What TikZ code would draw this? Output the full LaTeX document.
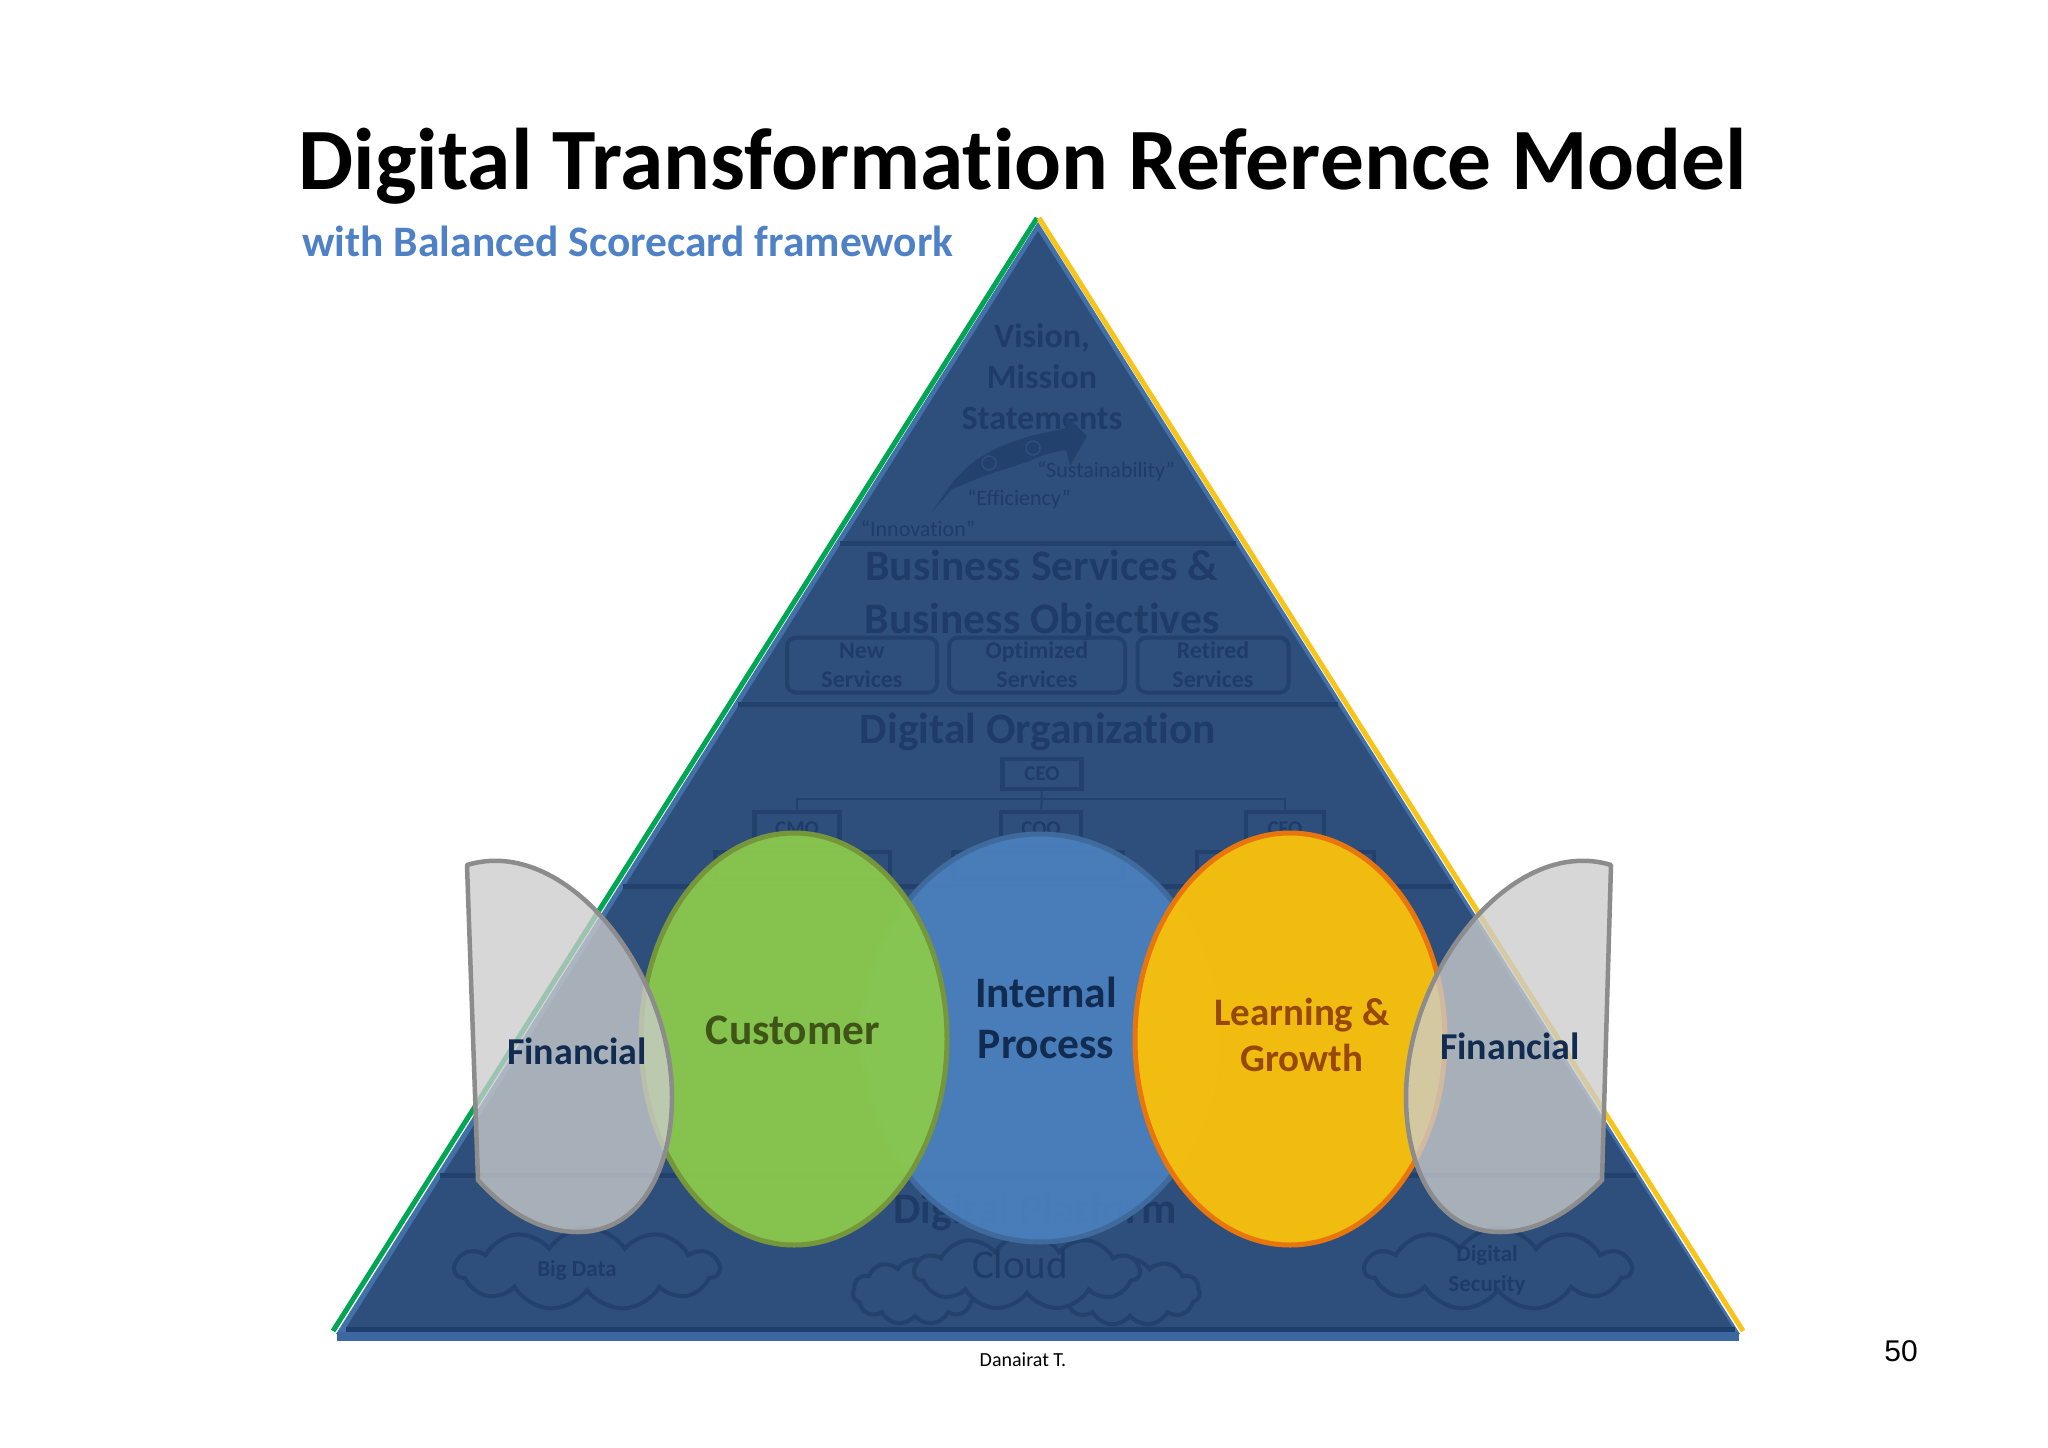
\documentclass[tikz,border=0pt]{standalone}
\usepackage{fontspec}
\setmainfont{Carlito}[Ligatures=NoCommon]
\newfontfamily\arialfont{Liberation Sans}
\usetikzlibrary{shapes.geometric,shapes.symbols}
\definecolor{titleblue}{HTML}{4F81C7}
\definecolor{tierfill}{HTML}{2E4F7B}
\definecolor{tierline}{HTML}{23416D}
\definecolor{tiertext}{HTML}{1F3C69}
\definecolor{edgeblue}{HTML}{4270A8}
\definecolor{edgegreen}{HTML}{00A651}
\definecolor{edgeyellow}{HTML}{F7C419}
\definecolor{barblue}{HTML}{3D67A0}
\definecolor{bardark}{HTML}{1F3D6D}
\definecolor{custfill}{HTML}{8AC94C}
\definecolor{custline}{HTML}{76963C}
\definecolor{custtext}{HTML}{3F5518}
\definecolor{procfill}{HTML}{4A80BE}
\definecolor{procline}{HTML}{3F6A9C}
\definecolor{growfill}{HTML}{F7C00C}
\definecolor{growline}{HTML}{E8760C}
\definecolor{growtext}{HTML}{974806}
\definecolor{navytext}{HTML}{112C50}
\tikzset{
  every node/.style={inner sep=0pt, align=center},
  txt/.style 2 args={font=\fontsize{#1}{#2}\selectfont},
  bold/.style 2 args={font=\fontsize{#1}{#2}\selectfont\bfseries},
  tierlabel/.style={text=tiertext},
  tierrule/.style={draw=tierline, line width=5pt},
  servicebox/.style={draw=tierline, line width=4pt, rounded corners=9pt, text=tiertext,
    minimum height=55pt, bold={24}{29}},
  orgbox/.style={draw=tierline, line width=4.5pt, text=tiertext, bold={21}{25}},
  orgline/.style={draw=tierline, line width=2pt},
  cloudbox/.style={cloud, draw=tierline, fill=tierfill, line width=4pt,
    cloud puffs=11, cloud puff arc=115, cloud ignores aspect},
  bsc/.style={ellipse, line width=5pt},
  finshape/.style={draw=black!45, line width=4.5pt, fill=black!20, fill opacity=0.77, line join=round},
}

\begin{document}
\begin{tikzpicture}[x=1pt, y=-1pt]

  \useasboundingbox (0,0) rectangle (2048,1448);
  \fill[white] (0,0) rectangle (2048,1448);

  % pyramid
  \draw[edgegreen, line width=5pt] (1037,218) -- (333,1331);
  \draw[edgeyellow, line width=5pt] (1039,218) -- (1743,1331);
  \fill[edgeblue] (1038,222) -- (336,1334) -- (1740,1334) -- cycle;
  \fill[tierfill] (1038,231) -- (346,1328) -- (1733,1328) -- cycle;
  \fill[bardark] (346,1327) rectangle (1735,1333);
  \fill[barblue] (337,1332) rectangle (1739,1341);
  \draw[tierrule] (840,543) -- (1236,543);
  \draw[tierrule] (738,704) -- (1338,704);
  \draw[tierrule] (623,886) -- (1453,886);
  \draw[tierrule] (440,1175) -- (1636,1175);

  % title
  \node[bold={87.5}{100}] (title) at (1023,166) {Digital Transformation Reference Model};
  \node[bold={43.5}{52}, text=titleblue] (subtitle) at (628,241) {with Balanced Scorecard framework};

  % vision tier
  \node[bold={34}{41}, tierlabel] (vision) at (1042,377) {Vision,\\Mission\\Statements};
  \fill[tierline] (932,512) -- (952,483) .. controls (965,468) and (975,460) .. (986,454)
    .. controls (1000,446) and (1015,441) .. (1030,436) -- (1066,428) -- (1066,416)
    -- (1087,436) -- (1070,466) -- (1066,450) .. controls (1050,452) and (1040,456) .. (1030,461)
    .. controls (1015,466) and (1005,469) .. (990,474) .. controls (975,479) and (965,484) .. (952,489) -- cycle;
  \draw[tierfill, line width=1.5pt] (989,463) circle (7pt);
  \draw[tierfill, line width=1.5pt] (1033,448) circle (7pt);
  \node[txt={22}{25}, tierlabel] (sustain) at (1106,471) {“Sustainability”};
  \node[txt={22}{25}, tierlabel] (effic) at (1019,499) {“Efficiency”};
  \node[txt={22}{25}, tierlabel] (innov) at (918,529) {“Innovation”};

  % services tier
  \node[bold={43.5}{53}, tierlabel] (services) at (1042,595) {Business Services \&\\Business Objectives};
  \node[servicebox, minimum width=150pt] (newsvc) at (862,665) {New\\Services};
  \node[servicebox, minimum width=176pt] (optsvc) at (1037,665) {Optimized\\Services};
  \node[servicebox, minimum width=151pt] (retsvc) at (1213,665) {Retired\\Services};

  % organization tier
  \node[bold={43.5}{50}, tierlabel] (orgtitle) at (1038,732) {Digital Organization};
  \node[orgbox, minimum width=79pt, minimum height=30pt] (ceo) at (1042,774) {CEO};
  \node[orgbox, minimum width=85pt, minimum height=34pt] (cmo) at (797,829) {CMO};
  \node[orgbox, minimum width=80pt, minimum height=34pt] (coo) at (1041,829) {COO};
  \node[orgbox, minimum width=78pt, minimum height=34pt] (cfo) at (1285,829) {CFO};
  \coordinate (orgbus) at (1041,799);
  \draw[orgline] (ceo) -- (coo);
  \draw[orgline] (cmo.north) |- (orgbus) -| (cfo.north);
  \node[draw=tierline, line width=4pt, minimum width=175pt, minimum height=28pt] (cmosub) at (802,866) {};
  \node[draw=tierline, line width=4pt, minimum width=170pt, minimum height=28pt] (coosub) at (1038,866) {};
  \node[draw=tierline, line width=4pt, minimum width=177pt, minimum height=28pt] (cfosub) at (1285,866) {};

  % platform tier
  \node[bold={43.5}{50}, tierlabel] (platform) at (1035,1212) {Digital Platform};
  \node[cloudbox, minimum width=264pt, minimum height=82pt] (bigdata) at (587,1269) {};
  \node[bold={23}{27}, tierlabel] (bigdatalbl) at (577,1270) {Big Data};
  \node[cloudbox, minimum width=266pt, minimum height=82pt] (security) at (1498,1269) {};
  \node[bold={23}{30}, tierlabel] (securitylbl) at (1487,1270) {Digital\\Security};
  \node[cloudbox, minimum width=125pt, minimum height=65pt] (cloudl) at (915,1292) {};
  \node[cloudbox, minimum width=140pt, minimum height=67pt] (cloudr) at (1130,1292) {};
  \node[cloudbox, minimum width=225pt, minimum height=75pt] (cloudc) at (1027,1272) {};
  \node[txt={41}{48}, tierlabel] (cloudlbl) at (1020,1264) {Cloud};

  % scorecard
  \node[bsc, draw=procline, fill=procfill, fill opacity=0.95, minimum width=356pt, minimum height=408pt] (procell) at (1040,1038) {};
  \node[bsc, draw=custline, fill=custfill, fill opacity=0.95, minimum width=306pt, minimum height=412pt] (custell) at (794,1039) {};
  \node[bsc, draw=growline, fill=growfill, fill opacity=0.97, minimum width=310pt, minimum height=412pt] (growell) at (1290,1039) {};
  \draw[finshape] (467,865) .. controls (565,835) and (672,970) .. (672,1097)
    .. controls (672,1170) and (640,1232) .. (578,1232)
    .. controls (535,1232) and (500,1205) .. (478,1180) -- cycle;
  \draw[finshape] (1611,865) .. controls (1513,835) and (1406,970) .. (1406,1097)
    .. controls (1406,1170) and (1438,1232) .. (1500,1232)
    .. controls (1543,1232) and (1578,1205) .. (1602,1180) -- cycle;

  \node[bold={38}{46}, text=navytext] (finl) at (577,1051) {Financial};
  \node[bold={43.5}{51}, text=custtext] (custlbl) at (793,1030) {Customer};
  \node[bold={43.5}{51}, text=navytext] (proclbl) at (1046,1018) {Internal\\Process};
  \node[bold={39}{46}, text=growtext] (growlbl) at (1302,1035) {Learning \&\\Growth};
  \node[bold={38}{46}, text=navytext] (finr) at (1510,1046) {Financial};

  % footer
  \node[txt={20}{24}] (author) at (1023,1360) {Danairat T.};
  \node[font=\arialfont\fontsize{30}{36}\selectfont] (pageno) at (1901,1351) {50};
\end{tikzpicture}
\end{document}
